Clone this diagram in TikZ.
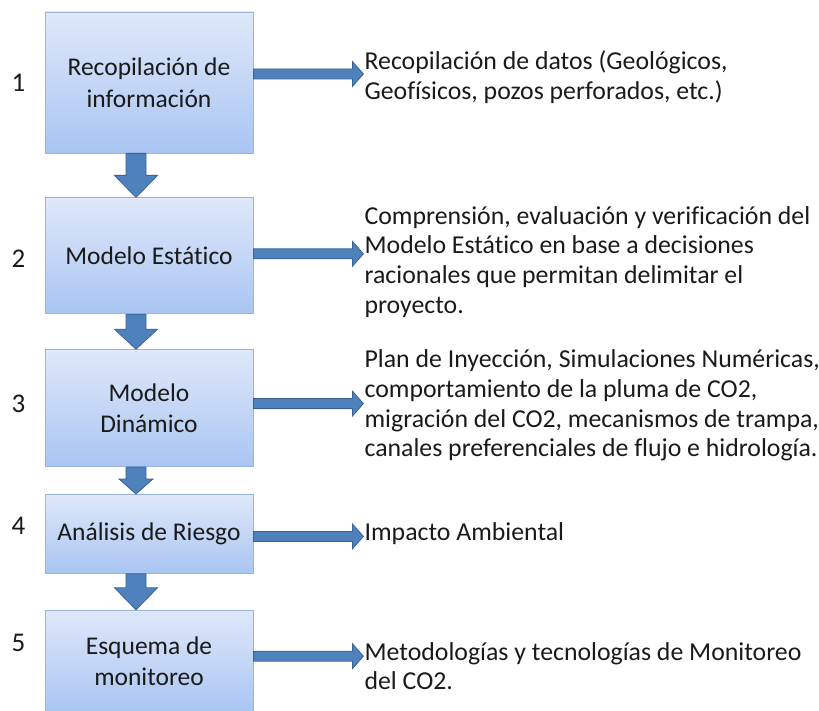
\documentclass[tikz,border=0pt]{standalone}
\usepackage{fontspec}
\setmainfont{Carlito}[Ligatures=NoCommon]
\usetikzlibrary{positioning,calc}
\definecolor{boxtop}{HTML}{DFE8FA}
\definecolor{boxbottom}{HTML}{A9C5F2}
\definecolor{boxedge}{HTML}{9BB4DE}
\definecolor{arrowblue}{HTML}{4F81BD}
\definecolor{arrowedge}{HTML}{3A6394}
\definecolor{ink}{HTML}{1A1A1A}

\begin{document}
\begin{tikzpicture}[
  x=1pt, y=-1pt,
  stage/.style={draw=boxedge, line width=0.8pt, top color=boxtop, bottom color=boxbottom,
    minimum width=208pt, align=center, text=ink, inner sep=2pt,
    font=\fontsize{25.5}{31.5}\selectfont},
  note/.style={align=left, text=ink, inner sep=0pt,
    font=\fontsize{25.8}{29.7}\selectfont},
  num/.style={text=ink, inner sep=0pt, font=\fontsize{27}{30}\selectfont},
  blockarrow/.style={fill=arrowblue, draw=arrowedge, line width=0.8pt, line join=miter}
]
\useasboundingbox (0,0) rectangle (819,711);

\node[stage, minimum height=141pt] (b1) at (149,82.5) {Recopilación de\\información};
\node[stage, minimum height=116pt, below=44pt of b1] (b2) {Modelo Estático};
\node[stage, minimum height=117pt, below=35pt of b2] (b3) {Modelo\\Dinámico};
\node[stage, minimum height=79pt, below=27pt of b3] (b4) {Análisis de Riesgo};
\node[stage, minimum height=102pt, below=36pt of b4] (b5) {Esquema de\\monitoreo};

\node[note, right=111pt of b1, yshift=5.5pt] (t1)
  {Recopilación de datos (Geológicos,\\Geofísicos, pozos perforados, etc.)};
\node[note, right=111pt of b2, yshift=-6pt] (t2)
  {Comprensión, evaluación y verificación del\\Modelo Estático en base a decisiones\\racionales que permitan delimitar el\\proyecto.};
\node[note, right=111pt of b3, yshift=2.5pt] (t3)
  {Plan de Inyección, Simulaciones Numéricas,\\comportamiento de la pluma de CO2,\\migración del CO2, mecanismos de trampa,\\canales preferenciales de flujo e hidrología.};
\node[note, right=111pt of b4] (t4) {Impacto Ambiental};
\node[note, right=111pt of b5, yshift=-5pt] (t5)
  {Metodologías y tecnologías de Monitoreo\\del CO2.};

\foreach \i/\s in {1/0,2/-3,3/4.5,4/8.5,5/18}
  \node[num, left=19pt of b\i, yshift=\s pt] (n\i) {\i};

% flechas entre etapas
\foreach \a/\b/\h/\w in {b1/b2/22/21.5,b2/b3/20/21.5,b3/b4/15/17,b4/b5/22/21.5}
  \draw[blockarrow] ($(\a.south)+(-23,0)$) -- ($(\b.north)+(-23,-\h)$)
    -- ($(\b.north)+(-13-\w,-\h)$) -- ($(\b.north)+(-13,0)$)
    -- ($(\b.north)+(-13+\w,-\h)$) -- ($(\b.north)+(-3,-\h)$)
    -- ($(\a.south)+(-3,0)$) -- cycle;

% flechas hacia las descripciones
\foreach \i/\s in {1/8.5,2/2,3/4.5,4/-2.5,5/5}{
  \coordinate (a\i) at ([yshift=\s pt]b\i.east);
  \coordinate (z\i) at (a\i -| t\i.west);
  \draw[blockarrow] ($(a\i)+(0,-5)$) -- ($(z\i)+(-12,-5)$) -- ($(z\i)+(-12,-12.5)$)
    -- ($(z\i)+(-1,0)$) -- ($(z\i)+(-12,12.5)$) -- ($(z\i)+(-12,5)$)
    -- ($(a\i)+(0,5)$) -- cycle;
}
\end{tikzpicture}
\end{document}
